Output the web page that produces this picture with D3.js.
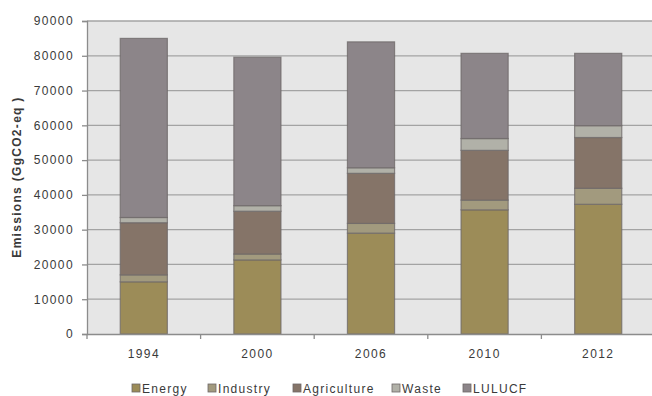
<!DOCTYPE html>
<html>
<head>
<meta charset="utf-8">
<script src="https://cdn.jsdelivr.net/npm/d3@7"></script>
<style>
  body { margin: 0; background: #fff; }
  svg { display: block; font-family: "Liberation Sans", Arial, sans-serif; }
</style>
</head>
<body>
<div id="chart"></div>
<script>
// Data
const years = ["1994", "2000", "2006", "2010", "2012"];
const sectors = ["Energy", "Industry", "Agriculture", "Waste", "LULUCF"];
const energy = [15000, 21300, 29000, 35700, 37300];
const industry = [2000, 1700, 2800, 2800, 4600];
const agriculture = [15000, 12300, 14400, 14300, 14600];
const waste = [1500, 1600, 1600, 3400, 3400];
const lulucf = [51500, 42700, 36200, 24500, 20800];
const yTicks = [0, 10000, 20000, 30000, 40000, 50000, 60000, 70000, 80000, 90000];

const colors = ["#9c8c58", "#a29a7e", "#857468", "#b1b1a8", "#8c8589"];
const textColor = "#3a3a3a";

const width = 652, height = 396;
const margin = { top: 21, right: -3, bottom: 62, left: 87 };
const innerW = width - margin.left - margin.right;
const innerH = height - margin.top - margin.bottom;

const rows = years.map((y, i) => ({
  year: y,
  Energy: energy[i],
  Industry: industry[i],
  Agriculture: agriculture[i],
  Waste: waste[i],
  LULUCF: lulucf[i]
}));
const stacked = d3.stack().keys(sectors)(rows);

const svg = d3.select("#chart")
  .append("svg")
  .attr("width", width)
  .attr("height", height);

const g = svg.append("g")
  .attr("transform", `translate(${margin.left},${margin.top})`);

const x = d3.scaleBand()
  .domain(years)
  .range([0, innerW])
  .paddingInner(0.585)
  .paddingOuter(0.2925);

const y = d3.scaleLinear()
  .domain([0, 90000])
  .range([innerH, 0]);

// Plot background
g.append("rect")
  .attr("width", innerW)
  .attr("height", innerH)
  .attr("fill", "#e6e6e6");

// Grid lines
g.append("g")
  .selectAll("line")
  .data(yTicks.slice(1))
  .join("line")
  .attr("x1", 0)
  .attr("x2", innerW)
  .attr("y1", d => y(d))
  .attr("y2", d => y(d))
  .attr("stroke", "#a3a3a3")
  .attr("stroke-width", 1.3);

// Bars
g.append("g")
  .selectAll("g")
  .data(stacked)
  .join("g")
  .attr("fill", (d, i) => colors[i])
  .selectAll("rect")
  .data(d => d)
  .join("rect")
  .attr("x", d => x(d.data.year))
  .attr("y", d => y(d[1]))
  .attr("width", x.bandwidth())
  .attr("height", d => y(d[0]) - y(d[1]))
  .attr("stroke", "#6e6868")
  .attr("stroke-opacity", 0.75)
  .attr("stroke-width", 1.2);

// Y axis
const yAxis = g.append("g")
  .call(d3.axisLeft(y).tickValues(yTicks).tickSize(5).tickPadding(8).tickFormat(d3.format("d")));
yAxis.select(".domain").attr("stroke", "#8c8c8c").attr("stroke-width", 1.3);
yAxis.selectAll(".tick line").attr("stroke", "#8c8c8c").attr("stroke-width", 1.3);
yAxis.selectAll(".tick text")
  .attr("fill", textColor)
  .attr("font-size", "12px")
  .attr("letter-spacing", "1.4px")
  .attr("font-family", "'Liberation Sans', Arial, sans-serif");

// X axis with separators between categories
const xAxis = g.append("g")
  .attr("transform", `translate(0,${innerH})`)
  .call(d3.axisBottom(x).tickSize(0).tickPadding(15));
xAxis.select(".domain").attr("stroke", "#8c8c8c").attr("stroke-width", 1.3);
xAxis.selectAll(".tick text")
  .attr("fill", textColor)
  .attr("font-size", "12px")
  .attr("letter-spacing", "1.4px")
  .attr("font-family", "'Liberation Sans', Arial, sans-serif");

const step = x.step();
const bounds = d3.range(years.length).map(i => x(years[i]) - (step - x.bandwidth()) / 2);
xAxis.selectAll(".sep")
  .data(bounds)
  .join("line")
  .attr("class", "sep")
  .attr("x1", d => d)
  .attr("x2", d => d)
  .attr("y1", 0)
  .attr("y2", 5)
  .attr("stroke", "#8c8c8c")
  .attr("stroke-width", 1.3);

// Y axis title
svg.append("text")
  .attr("transform", `translate(21,177) rotate(-90)`)
  .attr("text-anchor", "middle")
  .attr("font-size", "12px")
  .attr("font-weight", "bold")
  .attr("letter-spacing", "1.3px")
  .attr("fill", textColor)
  .text("Emissions (GgCO2-eq )");

// Legend
const legendX = [132, 208, 293, 392, 463];
const legend = svg.append("g");
sectors.forEach((s, i) => {
  const lg = legend.append("g")
    .attr("transform", `translate(${legendX[i]},388)`);
  lg.append("rect")
    .attr("x", 0)
    .attr("y", -4)
    .attr("width", 8)
    .attr("height", 8)
    .attr("fill", colors[i])
    .attr("stroke", "#6e6868")
    .attr("stroke-width", 0.8);
  lg.append("text")
    .attr("x", 10)
    .attr("y", 4.5)
    .attr("font-size", "12px")
    .attr("letter-spacing", "1.3px")
    .attr("fill", textColor)
    .text(s);
});
</script>
</body>
</html>
